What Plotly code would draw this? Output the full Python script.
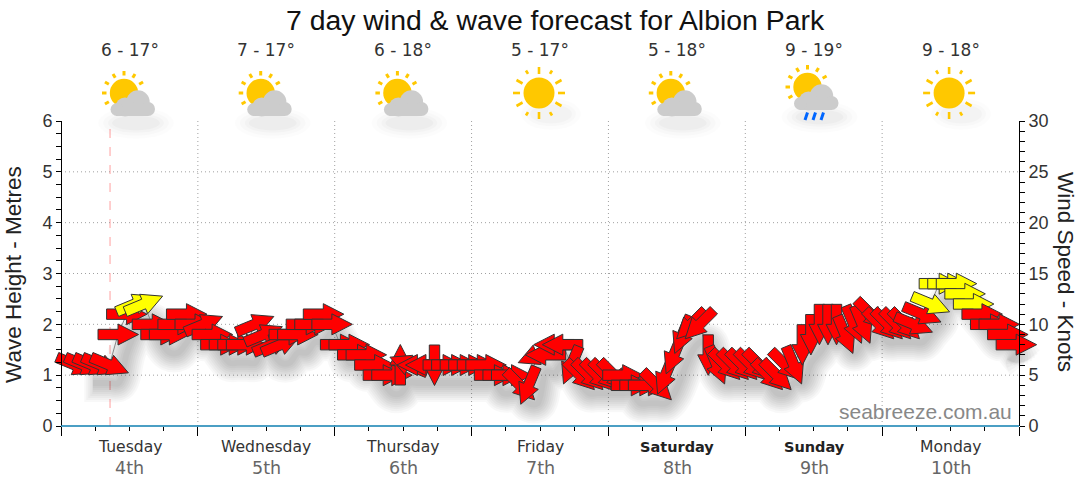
import math
import plotly.graph_objects as go

# Forecast values
days = ['Tuesday', 'Wednesday', 'Thursday', 'Friday', 'Saturday', 'Sunday', 'Monday']
dates = ['4th', '5th', '6th', '7th', '8th', '9th', '10th']
temps = ['6 - 17°', '7 - 17°', '6 - 18°', '5 - 17°', '5 - 18°', '9 - 19°', '9 - 18°']
icons = ['cloud', 'cloud', 'cloud', 'sun', 'cloud', 'rain', 'sun']

hours = [2.5, 4, 5.5, 7, 8.5, 10, 11.5, 13, 14.5, 16, 17.5, 19, 20.5, 22, 23.5,
         25, 26.5, 28, 29.5, 31, 32.5, 34, 35.5, 37, 38.5, 40, 41.5, 43, 44.5, 46, 47.5,
         49, 50.5, 52, 53.5, 55, 56.5, 58, 59.5, 61, 62.5, 64, 65.5, 67, 68.5, 70, 71.5,
         73, 74.5, 76, 77.5, 79, 80.5, 82, 83.5, 85, 86.5, 88, 89.5, 91, 92.5, 94, 95.5,
         97, 98.5, 100, 101.5, 103, 104.5, 106, 107.5, 109, 110.5, 112, 113.5, 115, 116.5, 118, 119.5,
         121, 122.5, 124, 125.5, 127, 128.5, 130, 131.5, 133, 134.5, 136, 137.5, 139, 140.5, 142, 143.5,
         145, 146.5, 148, 149.5, 151, 152.5, 154, 155.5, 157, 158.5, 160, 161.5, 163, 164.5, 166, 167.5]

wind_knots = [6, 6, 6, 6, 6, 9, 11, 12, 12, 10, 9, 9, 10, 11, 10,
              10, 9, 8, 8, 8, 8, 10, 9, 8, 8, 9, 9, 10, 10, 11, 10,
              8, 8, 7, 7, 6, 5, 5, 6, 6, 6, 6, 6, 6, 6, 6, 6,
              6, 6, 5, 5, 5, 4, 4, 7, 7, 8, 8, 6, 5, 5, 5, 5,
              5, 5, 4, 4, 4, 4, 5, 7, 9, 10, 10, 7, 6, 6, 6, 6,
              6, 6, 5, 5, 6, 6, 8, 9, 10, 10, 10, 9, 10, 10, 11, 10,
              10, 10, 10, 10, 11, 12, 14, 14, 14, 13, 12, 11, 10, 10, 9, 8]

# direction each arrow points, degrees counter-clockwise from east
wind_angle = [-22.5, -22.5, -22.5, -22.5, -22.5, 0, 0, 22.5, 22.5, 0, 0, 0, 0, 0, 0,
              22.5, 0, 0, 0, 0, 0, 22.5, 22.5, 22.5, 22.5, 0, 0, 0, 0, 0, 0,
              0, 0, 0, 0, 0, 0, 0, 90, 157.5, 180, 180, -90, 0, 0, 0, 0,
              0, 0, 0, 0, 0, -45, -112.5, -157.5, 180, 180, 180, -112.5, -45, -45, -45, -45,
              -45, 0, 0, 0, 0, -45, -112.5, -112.5, -112.5, -135, -135, -90, -67.5, -45, -45, -45,
              -45, -45, -45, -45, -45, -67.5, -90, -90, -90, -90, -90, -67.5, -67.5, -67.5, -45, -45,
              -45, -45, -45, -22.5, -22.5, -22.5, 0, 0, 0, 0, 0, 0, 0, 0, 0, 0]

now_hour = 8.6
yellow_from = 12

W, H = 1080, 490
AXIS_L, AXIS_R = 61, 1019  # where the two y axes stand
MT, PH = 121, 305
# the subplot runs wider than the axes, or the first and last arrows get clipped
PLOT_L, PLOT_R = 50, 1048
PW = PLOT_R - PLOT_L
px_per_hour = (AXIS_R - AXIS_L) / 168
px_per_knot = PH / 30
grid = dict(color='#a0a0a0', width=1, dash='1px,3px')


# page pixel -> paper coords
def paper_x(x):
    return (x - PLOT_L) / PW


def paper_y(y):
    return 1 - (y - MT) / PH


def arrow_path(hour, knots, angle):
    outline = [(-20, -5.2), (0, -5.2), (0, -10.5), (20.5, 0), (0, 10.5), (0, 5.2), (-20, 5.2), (-20, -5.2)]
    a = math.radians(angle)
    xs, ys = [], []
    for ox, oy in outline:
        dx = ox * math.cos(a) - oy * math.sin(a)
        dy = ox * math.sin(a) + oy * math.cos(a)
        xs.append(hour + dx / px_per_hour)
        ys.append(knots + dy / px_per_knot)
    return xs, ys


fig = go.Figure()

# soft shadow under the arrows, each layer a bit shorter so the ends fade
shadow_x = [h + 9 / px_per_hour for h in hours]
shadow_y = [k - 18 / px_per_knot for k in wind_knots]
for width in [38, 34, 30, 26, 22, 18, 14, 10, 6]:
    layer_x = list(shadow_x)
    layer_x[0] += (38 - width) / 2 / px_per_hour
    layer_x[-1] -= (38 - width) / 2 / px_per_hour
    fig.add_trace(go.Scatter(x=layer_x, y=shadow_y, yaxis='y2', mode='lines',
                             line=dict(color='rgba(0,0,0,0.026)', width=width, shape='spline'),
                             hoverinfo='skip', showlegend=False))

# thin line joining the points
fig.add_trace(go.Scatter(x=hours, y=wind_knots, yaxis='y2', mode='lines',
                         line=dict(color='#888888', width=1), hoverinfo='skip', showlegend=False))

for hour, knots, angle in zip(hours, wind_knots, wind_angle):
    xs, ys = arrow_path(hour, knots, angle)
    colour = '#ffff00' if knots >= yellow_from else '#ff0000'
    fig.add_trace(go.Scatter(x=xs, y=ys, yaxis='y2', mode='lines', fill='toself', fillcolor=colour,
                             line=dict(color='#333333', width=1), hoverinfo='skip', showlegend=False))

# gridlines, base line and the "now" marker
for v in [1, 2, 3, 4, 5]:
    fig.add_shape(type='line', xref='x', yref='y', x0=0, x1=168, y0=v, y1=v, layer='below', line=grid)
for d in range(1, 7):
    fig.add_vline(x=d * 24, layer='below', line=grid)
fig.add_vline(x=now_hour, layer='below', line=dict(color='#ff9f9f', width=1, dash='dash'))
# paper refs so the subplot's clip does not cut the line in half
fig.add_shape(type='line', xref='paper', yref='paper', x0=paper_x(AXIS_L), x1=paper_x(AXIS_R), y0=0, y1=0,
              layer='above', line=dict(color='#0f7fb0', width=1.5))


def circle(cx, cy, r, colour, ry=None):
    ry = r if ry is None else ry
    fig.add_shape(type='circle', xref='paper', yref='paper',
                  x0=paper_x(cx - r), x1=paper_x(cx + r), y0=paper_y(cy + ry), y1=paper_y(cy - ry),
                  fillcolor=colour, line_width=0)


def ray(cx, cy, deg, r0, r1, width=3):
    a = math.radians(deg)
    fig.add_shape(type='line', xref='paper', yref='paper',
                  x0=paper_x(cx + r0 * math.cos(a)), y0=paper_y(cy - r0 * math.sin(a)),
                  x1=paper_x(cx + r1 * math.cos(a)), y1=paper_y(cy - r1 * math.sin(a)),
                  line=dict(color='#ffc800', width=width))


def cloud_icon(x, dy=0):
    cy = 93 + dy
    for grow, alpha in [(18, 0.012), (13, 0.016), (8, 0.02), (4, 0.025)]:
        circle(x + 12, 123 + dy, 20 + grow, f'rgba(0,0,0,{alpha})', ry=5 + grow * 0.6)
    for deg in [90, 60, 30, 120, 150, 180, 210]:
        ray(x, cy, deg, 17.5, 22)
    circle(x, cy, 14.2, '#ffc800')
    # cloud body
    circle(x + 14, cy + 9, 11.7, '#cccccc')
    circle(x + 1, cy + 14, 9.5, '#cccccc')
    circle(x + 24, cy + 16, 7, '#cccccc')
    fig.add_shape(type='rect', xref='paper', yref='paper', x0=paper_x(x - 8), x1=paper_x(x + 24),
                  y0=paper_y(cy + 23), y1=paper_y(cy + 12), fillcolor='#cccccc', line_width=0)
    circle(x - 7, cy + 16.5, 6.5, '#cccccc')


def sun_icon(x):
    cy = 93
    for grow, alpha in [(14, 0.012), (9, 0.016), (5, 0.02)]:
        circle(x + 12, 114, 16 + grow, f'rgba(0,0,0,{alpha})', ry=6 + grow * 0.7)
    for deg in [0, 30, 90, 150, 180, 210, 270, 330]:
        ray(x, cy, deg, 19, 26, 2.6)
    for deg in [60, 120, 240, 300]:
        ray(x, cy, deg, 22, 26, 2.6)
    circle(x, cy, 15.5, '#ffc800')


def rain_drops(x, y):
    for off in [0, 8, 16]:
        fig.add_shape(type='line', xref='paper', yref='paper',
                      x0=paper_x(x + off), y0=paper_y(y + 7.5), x1=paper_x(x + off + 2.5), y1=paper_y(y),
                      line=dict(color='#0066ff', width=3))


for i, name in enumerate(icons):
    if name == 'sun':
        sun_icon(539 + (i - 3) * 136.7)
    elif name == 'rain':
        cloud_icon(124 + i * 136.7, dy=-6)
        rain_drops(805, 112.5)
    else:
        cloud_icon(124 + i * 136.7)


def label(x, y, text, size, colour, family, **kw):
    fig.add_annotation(xref='paper', yref='paper', x=paper_x(x), y=paper_y(y), text=text, showarrow=False,
                       font=dict(size=size, color=colour, family=family), xanchor='center', yanchor='middle', **kw)


label(555, 20, '7 day wind &amp; wave forecast for Albion Park', 28.4, '#111111', 'Liberation Sans')
for i, (day, date, temp) in enumerate(zip(days, dates, temps)):
    cx = 129.5 + i * 136.9
    label(cx, 50, temp, 17, '#333333', 'DejaVu Sans')
    if day in ('Saturday', 'Sunday'):
        label(cx, 447, f'<b>{day}</b>', 14.5, '#222222', 'DejaVu Sans')
    else:
        label(cx, 447, day, 15.6, '#333333', 'DejaVu Sans')
    label(cx, 468, date, 17.5, '#666666', 'DejaVu Sans')

label(13, 275, 'Wave Height - Metres', 22.5, '#222222', 'Liberation Sans', textangle=-90)
label(1066, 272, 'Wind Speed - Knots', 22.5, '#222222', 'Liberation Sans', textangle=90)
label(925, 411, 'seabreeze.com.au', 21, '#888888', 'Liberation Sans')

fig.update_layout(
    width=W, height=H,
    margin=dict(l=PLOT_L, r=W - PLOT_R, t=MT, b=H - MT - PH, pad=0),
    paper_bgcolor='white', plot_bgcolor='rgba(0,0,0,0)',
    showlegend=False,
    xaxis=dict(range=[(PLOT_L - AXIS_L) / px_per_hour, (PLOT_R - AXIS_L) / px_per_hour],
               tickmode='array', tickvals=[d * 24 for d in range(8)], ticks='outside', ticklen=9,
               tickcolor='black', showticklabels=False, showgrid=False, zeroline=False, showline=False,
               minor=dict(tickmode='array', tickvals=[h * 6 for h in range(29)], ticks='outside', ticklen=4,
                          tickcolor='black')),
    yaxis=dict(range=[0, 6], dtick=1, ticks='outside', ticklen=5, tickcolor='black',
               anchor='free', position=paper_x(AXIS_L),
               tickfont=dict(size=18, color='#333333', family='Liberation Sans'),
               showgrid=False, zeroline=False, showline=True, linecolor='black', linewidth=1,
               minor=dict(dtick=0.25, ticks='outside', ticklen=5, tickcolor='black')),
    yaxis2=dict(range=[0, 30], dtick=5, overlaying='y', side='right', ticks='outside', ticklen=5, tickcolor='black',
                anchor='free', position=paper_x(AXIS_R),
                tickfont=dict(size=18, color='#333333', family='Liberation Sans'),
                showgrid=False, zeroline=False, showline=True, linecolor='black', linewidth=1,
                minor=dict(dtick=1, ticks='outside', ticklen=5, tickcolor='black')),
)

# the page's default 8px body margin would push the figure off its 1080x490 window
fig.write_html("out.html", config={'displayModeBar': False}, post_script="document.body.style.margin='0';")
